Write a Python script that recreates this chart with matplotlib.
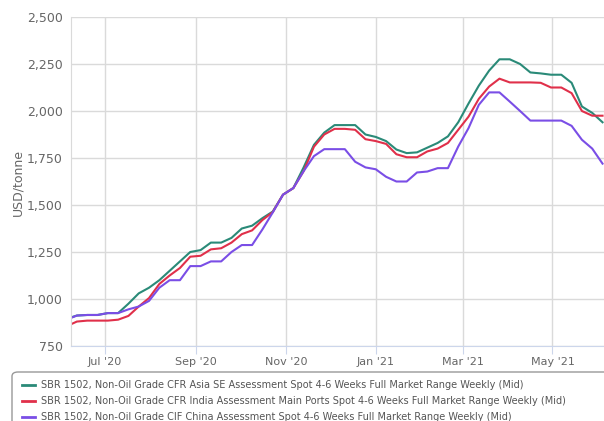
import pandas as pd
import matplotlib.pyplot as plt
import matplotlib.dates as mdates
from matplotlib.patches import FancyBboxPatch
from matplotlib.ticker import FuncFormatter

# Weekly assessment dates
dates = pd.date_range('2020-06-05', periods=53, freq='7D')

asia_se = [895, 912, 915, 915, 925, 925, 975, 1030, 1060, 1100,
           1150, 1200, 1250, 1260, 1300, 1300, 1325, 1375, 1390, 1430,
           1465, 1555, 1590, 1700, 1820, 1885, 1925, 1925, 1925, 1875,
           1862, 1840, 1795, 1776, 1780, 1805, 1830, 1865, 1940, 2040,
           2135, 2215, 2275, 2275, 2250, 2205, 2200, 2193, 2193, 2150,
           2024, 1990, 1940]

india = [855, 880, 885, 885, 885, 890, 910, 960, 1005, 1080,
         1125, 1165, 1225, 1230, 1264, 1270, 1300, 1345, 1365, 1420,
         1462, 1555, 1590, 1680, 1810, 1875, 1905, 1905, 1900, 1850,
         1840, 1825, 1770, 1754, 1754, 1785, 1800, 1830, 1900, 1970,
         2065, 2130, 2172, 2152, 2152, 2152, 2150, 2125, 2125, 2095,
         2000, 1975, 1975]

china = [890, 912, 915, 915, 925, 925, 945, 960, 990, 1060,
         1100, 1100, 1175, 1175, 1200, 1200, 1250, 1287, 1287, 1370,
         1460, 1555, 1590, 1680, 1760, 1797, 1797, 1797, 1730, 1700,
         1690, 1650, 1625, 1625, 1673, 1678, 1696, 1696, 1811, 1909,
         2033, 2099, 2099, 2050, 2000, 1949, 1949, 1949, 1949, 1921,
         1847, 1800, 1720]

labels = [
    'SBR 1502, Non-Oil Grade CFR Asia SE Assessment Spot 4-6 Weeks Full Market Range Weekly (Mid)',
    'SBR 1502, Non-Oil Grade CFR India Assessment Main Ports Spot 4-6 Weeks Full Market Range Weekly (Mid)',
    'SBR 1502, Non-Oil Grade CIF China Assessment Spot 4-6 Weeks Full Market Range Weekly (Mid)',
]
colors = ['#2a8a78', '#e0304a', '#7a4ee6']

fig = plt.figure(figsize=(6.04, 4.21), dpi=100)
ax = fig.add_axes([71 / 604, 75 / 421, 533 / 604, 329 / 421])

for series, color in zip([asia_se, india, china], colors):
    ax.plot(dates, series, color=color, linewidth=1.5, solid_joinstyle='round')

ax.set_xlim(pd.Timestamp('2020-06-08'), pd.Timestamp('2021-06-05'))
ax.set_ylim(750, 2500)
ax.set_yticks(range(750, 2501, 250))
ax.yaxis.set_major_formatter(FuncFormatter(lambda v, p: f'{int(v):,}'))

ax.xaxis.set_major_locator(mdates.MonthLocator(bymonth=[1, 3, 5, 7, 9, 11]))
ax.xaxis.set_major_formatter(mdates.DateFormatter("%b '%y"))

ax.grid(True, color='#dadada', linewidth=1)
ax.set_axisbelow(True)
for side in ['top', 'right']:
    ax.spines[side].set_visible(False)
ax.spines['left'].set_color('#dadada')
ax.spines['bottom'].set_color('#ccd6eb')

ax.tick_params(axis='y', length=0, pad=6, labelsize=9, labelcolor='#666666')
ax.tick_params(axis='x', length=6, color='#ccd6eb', pad=2, labelsize=8, labelcolor='#666666')

fig.text(18 / 604, 1 - 182 / 421, 'USD/tonne', rotation=90, ha='center', va='center',
         fontsize=9, color='#666666')

# legend box
box = FancyBboxPatch((12 / 604, -0.05), 0.99, (421 - 372) / 421 + 0.05,
                     boxstyle='round,pad=0,rounding_size=0.01',
                     transform=fig.transFigure, facecolor='white',
                     edgecolor='#999999', linewidth=1)
fig.patches.append(box)
for i, (lab, color) in enumerate(zip(labels, colors)):
    y = 1 - (385 + i * 16) / 421
    fig.add_artist(plt.Line2D([22 / 604, 35 / 604], [y, y], color=color,
                              linewidth=2, transform=fig.transFigure))
    fig.text(41 / 604, y, lab, ha='left', va='center', fontsize=7.0, color='#555555')

fig.savefig('out.png', dpi=100)
